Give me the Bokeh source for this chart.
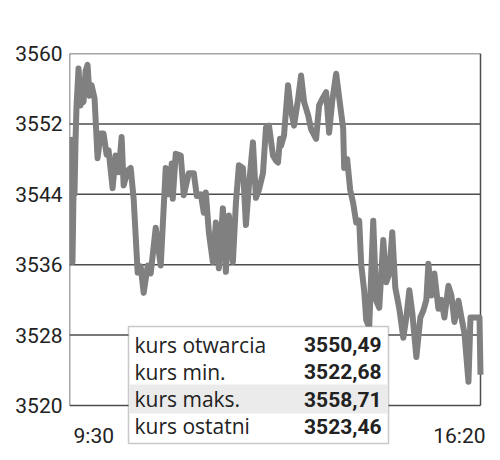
from bokeh.plotting import figure
from bokeh.models import Range1d, FixedTicker, Label, BoxAnnotation
from bokeh.embed import file_html
from bokeh.resources import INLINE

# minutes after 9:30 and index value
minutes = [0, 1, 2, 3, 4, 5, 6, 7, 9, 11, 12, 14, 16, 18, 20, 22, 25, 28, 31, 34,
           37, 39, 43, 46, 49, 52, 54, 58, 61, 64, 68, 71, 74, 78, 81, 86, 91, 96, 99, 102,
           103, 106, 111, 114, 119, 124, 127, 131, 134, 136, 139, 143, 146, 149, 153, 156, 159, 163, 166, 169,
           173, 176, 179, 183, 186, 189, 193, 196, 199, 203, 206, 208, 210, 211, 214, 218, 221, 224, 228, 231,
           234, 238, 241, 246, 249, 252, 256, 259, 262, 266, 269, 273, 274, 277, 280, 283, 286, 289, 291, 294,
           296, 299, 301, 303, 306, 309, 313, 316, 319, 322, 325, 329, 333, 336, 339, 342, 346, 350, 353, 356,
           358, 361, 364, 368, 371, 374, 378, 381, 384, 388, 391, 394, 398, 400, 406, 409, 410]
values = [3550.5, 3549.0, 3537.5, 3536.3, 3544.2, 3544.0, 3550.0, 3554.0, 3558.3, 3554.1,
          3555.0, 3554.5, 3558.0, 3558.7, 3555.2, 3556.4, 3554.9, 3548.1, 3550.9, 3550.9,
          3548.5, 3549.0, 3544.7, 3548.4, 3546.5, 3550.5, 3545.0, 3546.7, 3547.0, 3543.5,
          3535.1, 3535.8, 3532.8, 3535.9, 3535.0, 3540.2, 3535.9, 3547.0, 3544.0, 3547.5,
          3543.5, 3548.6, 3548.4, 3543.9, 3546.4, 3546.4, 3543.8, 3544.0, 3541.9, 3544.2,
          3539.7, 3536.3, 3540.8, 3535.6, 3542.4, 3535.2, 3541.6, 3536.3, 3543.0, 3547.3,
          3547.0, 3540.5, 3545.0, 3549.9, 3543.6, 3544.5, 3546.4, 3551.6, 3551.8, 3548.4,
          3547.8, 3547.6, 3550.3, 3549.5, 3550.7, 3556.4, 3553.5, 3551.8, 3554.8, 3557.5,
          3554.5, 3553.0, 3551.4, 3550.3, 3554.1, 3554.8, 3555.6, 3551.0, 3554.5, 3557.7,
          3555.0, 3551.5, 3547.0, 3548.0, 3544.5, 3543.0, 3540.8, 3541.0, 3536.0, 3533.0,
          3529.7, 3528.9, 3535.0, 3541.0, 3531.9, 3531.1, 3538.8, 3534.0, 3535.0, 3539.7,
          3533.4, 3531.0, 3527.7, 3530.0, 3533.1, 3530.5, 3525.5, 3530.0, 3530.8, 3532.0,
          3536.1, 3532.5, 3535.0, 3531.0, 3532.0, 3530.0, 3533.6, 3532.5, 3529.5, 3531.9,
          3530.0, 3528.2, 3522.7, 3530.0, 3530.0, 3530.0, 3523.5]

y_ticks = [3520, 3528, 3536, 3544, 3552, 3560]
x_labels = ["9:30", "16:20"]
stat_names = ["kurs otwarcia", "kurs min.", "kurs maks.", "kurs ostatni"]
stat_values = ["3550,49", "3522,68", "3558,71", "3523,46"]
highlight_row = 2

TEXT = "#222222"
GRID = "#4d4d4d"
LINE = "#808080"

# layout (canvas pixels)
W, H = 490, 450
PLOT_L, PLOT_R, PLOT_T, PLOT_B = 69, 480, 53, 405   # chart box
FRAME_R, FRAME_B = W, H                               # drawing frame extends to canvas edge
TEXT_SHIFT = 7                                        # label baseline correction
t0, t1 = minutes[0], minutes[-1]
ppx = (PLOT_R - PLOT_L) / (t1 - t0)
ppy = (PLOT_B - PLOT_T) / (y_ticks[-1] - y_ticks[0])
x_end = t1 + (FRAME_R - PLOT_R) / ppx
y_start = y_ticks[0] - (FRAME_B - PLOT_B) / ppy

p = figure(width=W, height=H, output_backend="svg", toolbar_location=None,
           x_range=Range1d(t0, x_end), y_range=Range1d(y_start, y_ticks[-1]),
           min_border_left=PLOT_L, min_border_right=0, min_border_top=PLOT_T, min_border_bottom=0)
p.background_fill_color = "white"
p.border_fill_color = "white"
p.outline_line_color = None

p.xaxis.visible = False
p.xgrid.visible = False
p.yaxis.ticker = FixedTicker(ticks=y_ticks)
p.ygrid.ticker = FixedTicker(ticks=y_ticks)
p.ygrid.grid_line_color = None
p.yaxis.axis_line_color = None
p.yaxis.major_tick_line_color = None
p.yaxis.minor_tick_line_color = None
p.yaxis.major_tick_out = 0
p.yaxis.major_tick_in = 0
p.yaxis.major_label_standoff = 7
p.yaxis.major_label_text_font = "Roboto"
p.yaxis.major_label_text_font_size = "21px"
p.yaxis.major_label_text_color = TEXT

# gridlines and box spanning the session
p.segment(x0=[t0] * len(y_ticks), x1=[t1] * len(y_ticks), y0=y_ticks, y1=y_ticks,
          line_color=GRID, line_width=1.5)
p.segment(x0=[t0, t1], x1=[t0, t1], y0=[y_ticks[0]] * 2, y1=[y_ticks[-1]] * 2,
          line_color=GRID, line_width=1.5)

p.line(minutes, values, line_color=LINE, line_width=6, line_join="round")

def sx(cx):
    return cx - PLOT_L

def sy(cy):
    return FRAME_B - cy

def ty(cy):
    return sy(cy) + TEXT_SHIFT

# x labels at session start / end
p.add_layout(Label(x=t0, y=ty(442), x_units="data", y_units="screen", text=x_labels[0],
                   text_align="left", text_baseline="alphabetic", x_offset=4,
                   text_font="Roboto", text_font_size="21px", text_color=TEXT))
p.add_layout(Label(x=t1, y=ty(442), x_units="data", y_units="screen", text=x_labels[1],
                   text_align="right", text_baseline="alphabetic", x_offset=5,
                   text_font="Roboto", text_font_size="21px", text_color=TEXT))

# stats table
box_l, box_r, box_t, box_b = sx(128), sx(388), sy(326), sy(443)
p.add_layout(BoxAnnotation(left=box_l, right=box_r, top=box_t, bottom=box_b,
                           left_units="screen", right_units="screen", top_units="screen", bottom_units="screen",
                           fill_color="white", fill_alpha=1, line_color=GRID, line_width=1.5))
row_h = 27.3
hl_top = sy(384)
p.add_layout(BoxAnnotation(left=box_l + 1, right=box_r - 1, top=hl_top, bottom=hl_top - 29,
                           left_units="screen", right_units="screen", top_units="screen", bottom_units="screen",
                           fill_color="#ebebeb", fill_alpha=1, line_color=None))
for i, (nm, vl) in enumerate(zip(stat_names, stat_values)):
    yb = ty(351) - i * row_h
    p.add_layout(Label(x=box_l + 6, y=yb, x_units="screen", y_units="screen", text=nm,
                       text_align="left", text_baseline="alphabetic",
                       text_font="Open Sans", text_font_size="21px", text_color=TEXT))
    p.add_layout(Label(x=box_r - 7, y=yb, x_units="screen", y_units="screen", text=vl,
                       text_align="right", text_baseline="alphabetic",
                       text_font="Roboto", text_font_size="21px", text_font_style="bold", text_color=TEXT))

open("out.html", "w").write(file_html(p, INLINE))
